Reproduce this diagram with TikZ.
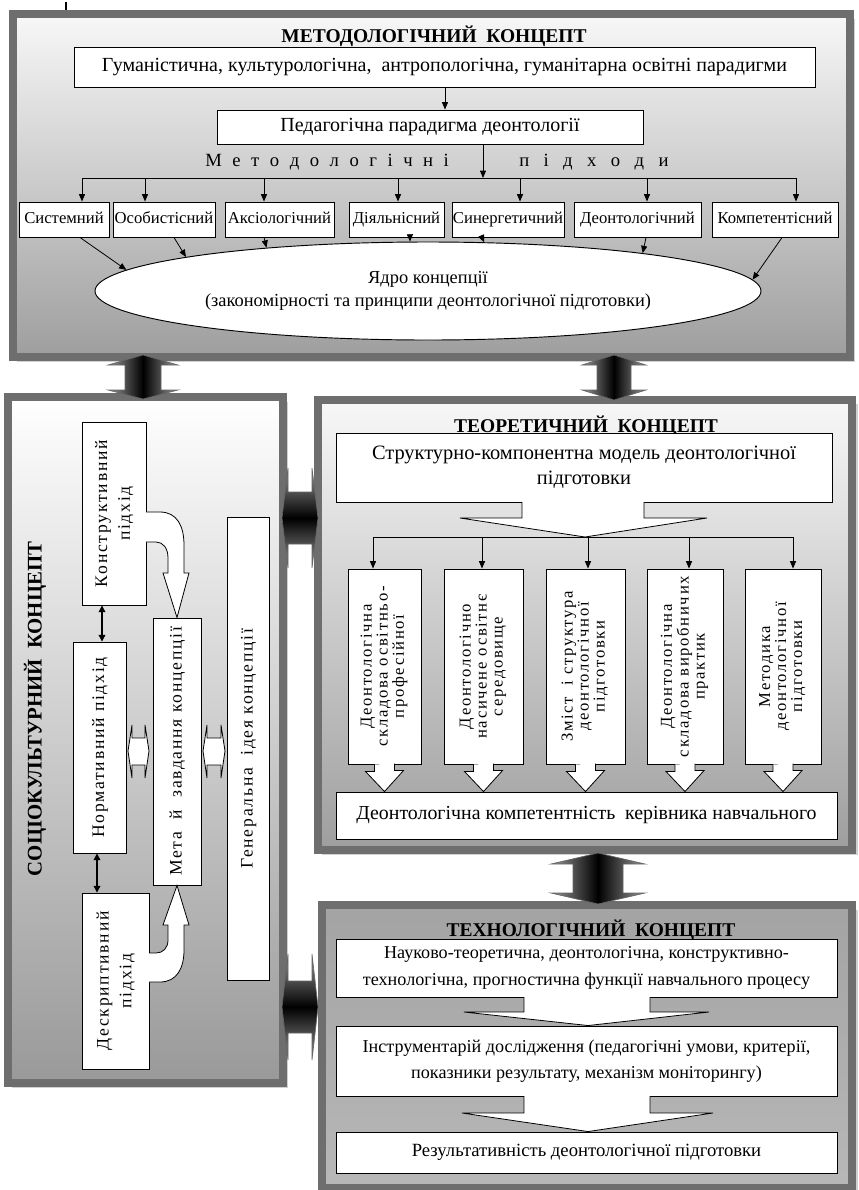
\documentclass[tikz,border=0pt]{standalone}
\usepackage{fontspec}
\setmainfont{Liberation Serif}
\newfontfamily\lsp[LetterSpace=10]{Liberation Serif}
\usepackage{graphicx}
\usetikzlibrary{arrows.meta,shapes.geometric,calc}
\newcommand\vtext[1]{\rotatebox{90}{\begin{tabular}{@{}c@{}}#1\end{tabular}}}
\newcommand\pbox[7][]{%
  \pgfmathsetmacro\pbx{(#3+#5)/2}%
  \pgfmathsetmacro\pby{(#4+#6)/2}%
  \pgfmathsetmacro\pbw{(#5-#3)*0.75}%
  \pgfmathsetmacro\pbh{(#6-#4)*0.75}%
  \node[wbox,#1,minimum width=\pbw pt,minimum height=\pbh pt] (#2) at (\pbx,\pby) {#7};}
\begin{document}
\begin{tikzpicture}[x=0.75pt,y=-0.75pt,line join=miter,
  panel/.style={draw=black!57,line width=6pt},
  wbox/.style={draw=black,line width=0.7pt,fill=white,inner sep=0pt,align=center,font=\fontsize{14}{17}\selectfont},
  conn/.style={draw=black,line width=0.6pt,-{Triangle[length=5.5pt,width=4.5pt]}},
  dconn/.style={draw=black,line width=0.9pt,{Triangle[length=5pt,width=5pt]}-{Triangle[length=5pt,width=5pt]}},
  hollow/.style={draw=black,line width=0.6pt,fill=white},
  blockv/.style={draw=black!60,line width=0.5pt,left color=black!40,right color=black!40,middle color=black},
  blockh/.style={draw=black!60,line width=0.5pt,top color=black!40,bottom color=black!40,middle color=black},
  ttl/.style={font=\fontsize{14.6}{16}\selectfont\bfseries},
  apx/.style={font=\fontsize{12.5}{15}\selectfont,text height=8.6pt,text depth=2.8pt},
  vbox/.style={font=\fontsize{12.5}{12}\selectfont\lsp},
  vboxl/.style={font=\fontsize{13.2}{17}\selectfont\lsp},
]
\useasboundingbox (0,0) rectangle (858,1190);
\fill[white] (0,0) rectangle (858,1190);
% cursor artifact
\draw[line width=1pt] (66,2) -- (66,29);
\draw[line width=0.6pt] (61,13) -- (71,13);

% ================= METHODOLOGICAL PANEL =================
\fill[black!18] (17,19) rectangle (855,362);
\shade[top color=black!3,bottom color=black!38] (13,14) rectangle (850,357);
\draw[panel] (13,14) rectangle (850,357);
\node[ttl] (tm) at (434,36) {МЕТОДОЛОГІЧНИЙ\ \ КОНЦЕПТ};
\pbox[font=\fontsize{15}{17}\selectfont]{hum}{74}{47}{815}{87}{Гуманістична, культурологічна,\ \ антропологічна, гуманітарна освітні парадигми}
\pbox[font=\fontsize{15}{17}\selectfont]{ped}{217}{110}{643}{144}{Педагогічна парадигма деонтології}
\coordinate (xa) at (445,0);
\draw[conn] (hum.south -| xa) -- (ped.north -| xa);
\node[font=\fontsize{14}{16}\selectfont,anchor=west,inner sep=0] (mp1) at (205,162) {\spaceskip=7.9pt\relax М е т о д о л о г і ч н і};
\node[font=\fontsize{14}{16}\selectfont,anchor=west,inner sep=0] (mp2) at (519,162) {\spaceskip=10.8pt\relax п і д х о д и};
\coordinate (bt) at (483,178);
\draw[conn] (ped.south -| bt) -- (bt);
\coordinate (b1) at (82,178);
\coordinate (b2) at (145,178);
\coordinate (b3) at (264,178);
\coordinate (b4) at (398,178);
\coordinate (b5) at (520,178);
\coordinate (b6) at (647,178);
\coordinate (b7) at (796,178);
\draw[line width=0.6pt] (b1) -- (b7);
\pbox[apx]{sys}{19}{202}{109}{237}{Системний}
\pbox[apx]{oso}{113}{202}{215}{237}{Особистісний}
\pbox[apx]{aks}{225}{202}{334}{237}{Аксіологічний}
\pbox[apx]{dia}{349}{202}{444}{237}{Діяльнісний}
\pbox[apx]{syn}{452}{202}{564}{237}{Синергетичний}
\pbox[apx]{deo}{574}{202}{701}{237}{Деонтологічний}
\pbox[apx]{kom}{712}{202}{838}{237}{Компетентісний}
\draw[conn] (b1) -- (sys.north -| b1);
\draw[conn] (b2) -- (oso.north -| b2);
\draw[conn] (b3) -- (aks.north -| b3);
\draw[conn] (b4) -- (dia.north -| b4);
\draw[conn] (b5) -- (syn.north -| b5);
\draw[conn] (b6) -- (deo.north -| b6);
\draw[conn] (b7) -- (kom.north -| b7);
\node[ellipse,draw,line width=0.7pt,fill=white,minimum width=499.5pt,minimum height=73.5pt,inner sep=0pt,align=center,font=\fontsize{13.8}{17.5}\selectfont] (core) at (428,291) {Ядро концепції\\(закономірності та принципи деонтологічної підготовки)};
\draw[conn] ([xshift=12pt]sys.south) -- (core.176.5);
\draw[conn] ([xshift=7.5pt]oso.south) -- (core.172);
\draw[conn] ([xshift=-11.6pt]aks.south) -- (core.165.3);
\draw[conn] ([xshift=10.1pt]dia.south) -- (core.110.2);
\draw[conn] ([xshift=-19.5pt]syn.south) -- (core.41.8);
\draw[conn] ([xshift=6.4pt]deo.south) -- (core.10.3);
\draw[conn] ([xshift=5.3pt]kom.south) -- (core.2.8);

% ================= SOCIOCULTURAL PANEL =================
\fill[black!18] (12,402) rectangle (288,1088);
\shade[top color=white,bottom color=black!40] (8,397) rectangle (283,1083);
\draw[panel] (8,397) rectangle (283,1083);
\node[font=\fontsize{15.6}{17}\selectfont\bfseries,rotate=90] (ts) at (35,709) {СОЦІОКУЛЬТУРНИЙ\ \ КОНЦЕПТ};
\pbox[vboxl]{K}{82}{422}{146}{605}{\vtext{Конструктивний\\підхід}}
\pbox[vboxl]{N}{73}{642}{126}{853}{\vtext{Нормативний підхід}}
\pbox[vboxl]{D}{82}{893}{149}{1069}{\vtext{Дескриптивний\\підхід}}
\pbox[vboxl]{M}{153}{618}{201}{885}{\vtext{Мета\ \ й\ \ завдання концепції}}
\pbox[vboxl]{G}{227}{517}{269}{980}{\vtext{Генеральна\ \ ідея концепції}}
\coordinate (xk) at (102,0);
\coordinate (xd) at (97,0);
\draw[dconn] (K.south -| xk) -- (N.north -| xk);
\draw[dconn] (N.south -| xd) -- (D.north -| xd);
% curved hollow arrows
\draw[hollow] (146,512) -- (160,512) .. controls (177,512) and (184,526) .. (184,545) -- (184,573) -- (189,573) -- (M.north) -- (163,573) -- (168,573) -- (168,558) .. controls (168,548) and (163,542) .. (156,542) -- (146,542);
\draw[hollow] (149,982) -- (160,982) .. controls (177,982) and (184,968) .. (184,950) -- (184,925) -- (189,925) -- (M.south) -- (163,925) -- (168,925) -- (168,940) .. controls (168,948) and (163,953) .. (156,953) -- (149,953);
% small hollow double arrows
\draw[hollow] (128,751) -- (132,725) -- (132,738) -- (145,738) -- (145,725) -- (149,751) -- (145,778) -- (145,765) -- (132,765) -- (132,778) -- cycle;
\draw[hollow] (203,751) -- (207,725) -- (207,738) -- (221,738) -- (221,725) -- (225,751) -- (221,778) -- (221,765) -- (207,765) -- (207,778) -- cycle;

% ================= THEORETICAL PANEL =================
\fill[black!18] (322,404) rectangle (858,855);
\shade[top color=black!3,bottom color=black!38] (318,400) rectangle (852,850);
\draw[panel] (318,400) rectangle (852,850);
\node[ttl] (tt) at (586,426) {ТЕОРЕТИЧНИЙ\ \ КОНЦЕПТ};
\pbox[font=\fontsize{15.3}{19}\selectfont]{S}{336}{433}{832}{502}{Структурно-компонентна модель деонтологічної\\підготовки}
\coordinate (tb) at (585,537);
\path[fill=white] (522,502) -- (522,518) -- (460,518) -- (tb) -- (707,518) -- (644,518) -- (644,502) -- cycle;
\draw[line width=0.6pt] (522,502) -- (522,518) -- (460,518) -- (tb) -- (707,518) -- (644,518) -- (644,502);
\coordinate (c1) at (373,537);
\coordinate (c2) at (482,537);
\coordinate (c3) at (588,537);
\coordinate (c4) at (689,537);
\coordinate (c5) at (793,537);
\draw[line width=0.6pt] (c1) -- (c5);
\pbox[vbox]{r1}{348}{569}{421}{764}{\vtext{Деонтологічна\\складова освітньо-\\професійної}}
\pbox[vbox]{r2}{444}{569}{523}{764}{\vtext{Деонтологічно\\насичене освітнє\\середовище}}
\pbox[vbox]{r3}{546}{569}{625}{764}{\vtext{Зміст\ \ і структура\\деонтологічної\\підготовки}}
\pbox[vbox]{r4}{647}{569}{723}{764}{\vtext{Деонтологічна\\складова виробничих\\практик}}
\pbox[vbox]{r5}{745}{569}{821}{764}{\vtext{Методика\\деонтологічної\\підготовки}}
\draw[conn] (c1) -- (r1.north -| c1);
\draw[conn] (c2) -- (r2.north -| c2);
\draw[conn] (c3) -- (r3.north -| c3);
\draw[conn] (c4) -- (r4.north -| c4);
\draw[conn] (c5) -- (r5.north -| c5);
\pbox[font=\fontsize{14.9}{17}\selectfont]{comp}{336}{792}{837}{839}{Деонтологічна компетентність\ \ керівника навчального}
\foreach \n in {r1,r2,r3,r4,r5}{
  \draw[hollow] ([xshift=-7.5pt]\n.south) -- ++(0,7) -- ++(-9,0) -- (comp.north -| \n.south) -- ++(19,-21) -- ++(-9,0) -- ++(0,-7);
}

% ================= TECHNOLOGICAL PANEL =================
\fill[black!18] (326,910) rectangle (858,1195);
\shade[top color=black!36,middle color=black!12,bottom color=black!28] (322,905) rectangle (852,1188);
\draw[panel] (322,905) rectangle (852,1188);
\node[ttl] (th) at (591,930) {ТЕХНОЛОГІЧНИЙ\ \ КОНЦЕПТ};
\pbox[font=\fontsize{13.6}{20}\selectfont]{T1}{336}{939}{837}{997}{Науково-теоретична, деонтологічна, конструктивно-\\технологічна, прогностична функції навчального процесу}
\pbox[font=\fontsize{13.6}{20}\selectfont]{T2}{336}{1026}{837}{1096}{Інструментарій дослідження (педагогічні умови, критерії,\\показники результату, механізм моніторингу)}
\pbox[font=\fontsize{14}{17}\selectfont]{T3}{336}{1132}{837}{1173}{Результативність деонтологічної підготовки}
\coordinate (xt) at (588,0);
\path[fill=white] (524,997) -- (524,1012) -- (464,1012) -- (T2.north -| xt) -- (709,1012) -- (650,1012) -- (650,997) -- cycle;
\draw[line width=0.6pt] (524,997) -- (524,1012) -- (464,1012) -- (T2.north -| xt) -- (709,1012) -- (650,1012) -- (650,997);
\path[fill=white] (524,1096) -- (524,1113) -- (462,1113) -- (T3.north -| xt) -- (713,1113) -- (650,1113) -- (650,1096) -- cycle;
\draw[line width=0.6pt] (524,1096) -- (524,1113) -- (462,1113) -- (T3.north -| xt) -- (713,1113) -- (650,1113) -- (650,1096);

% ================= BIG BLOCK ARROWS =================
\draw[blockv] (143,355) -- (178,365) -- (161,365) -- (161,390) -- (178,390) -- (143,399) -- (108,390) -- (125,390) -- (125,365) -- (108,365) -- cycle;
\draw[blockv] (614,355) -- (646,365) -- (631,365) -- (631,390) -- (646,390) -- (614,400) -- (582,390) -- (597,390) -- (597,365) -- (582,365) -- cycle;
\draw[blockh] (282,518) -- (288,468) -- (288,492) -- (312,492) -- (312,468) -- (318,518) -- (312,568) -- (312,544) -- (288,544) -- (288,568) -- cycle;
\draw[blockh] (282,1007) -- (288,954) -- (288,981) -- (312,981) -- (312,954) -- (318,1007) -- (312,1060) -- (312,1033) -- (288,1033) -- (288,1060) -- cycle;
\draw[blockv] (598,853) -- (645,864) -- (623,864) -- (623,893) -- (645,893) -- (598,904) -- (551,893) -- (573,893) -- (573,864) -- (551,864) -- cycle;
\end{tikzpicture}
\end{document}
